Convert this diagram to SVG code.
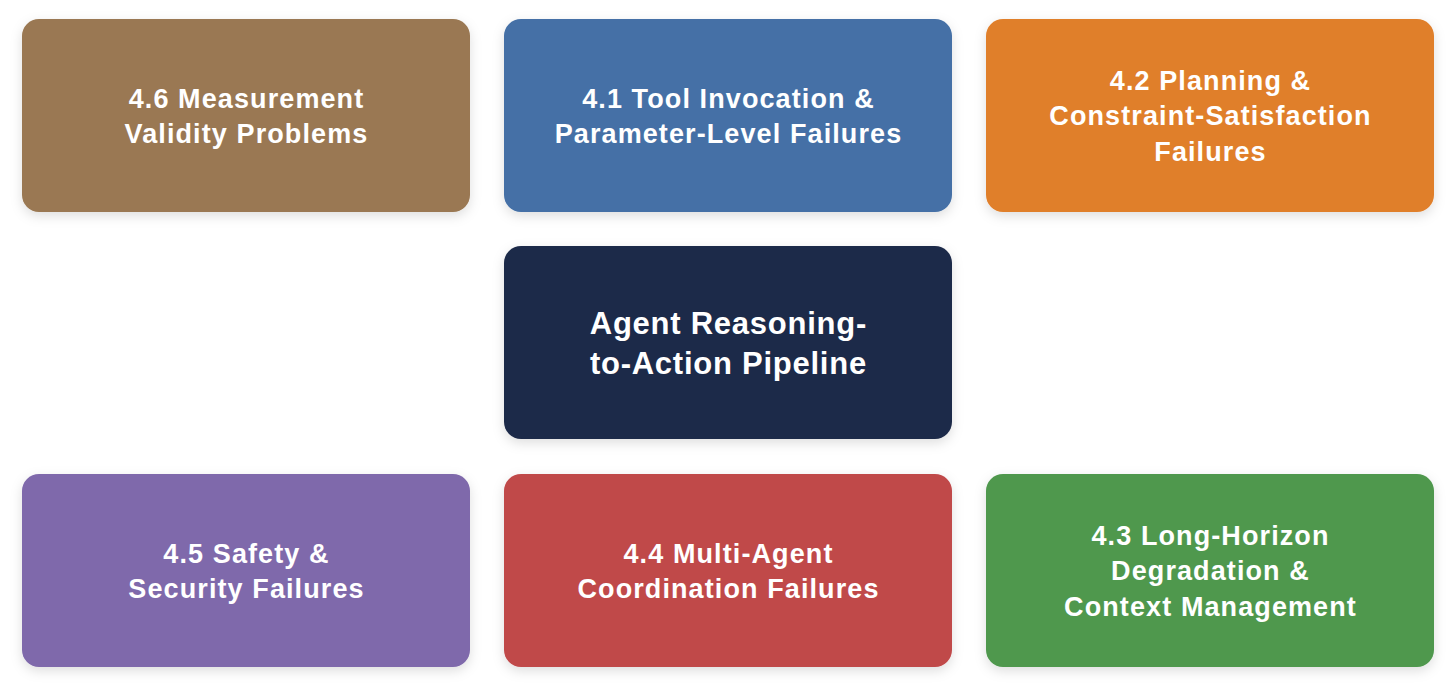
<svg xmlns="http://www.w3.org/2000/svg" width="1456" height="694" viewBox="0 0 1456 694">
<style>
.box{filter:url(#sh);}
.t{font-family:"Liberation Sans",Arial,Helvetica,sans-serif;font-weight:bold;font-size:27px;letter-spacing:1.1px;fill:#fff;text-anchor:middle;}
.tc{font-size:31px;letter-spacing:0.75px;}
</style>
<defs>
<filter id="sh" x="-10%" y="-10%" width="120%" height="130%">
<feDropShadow dx="0" dy="4" stdDeviation="6" flood-color="#000" flood-opacity="0.13"/>
</filter>
</defs>
<rect width="1456" height="694" fill="#fff"/>
<g id="connectors"></g>
<g id="n46">
<rect class="box" x="22" y="19" width="448" height="193" rx="17" fill="#9A7852"/>
<text class="t" x="246.5" y="107.5">4.6 Measurement</text>
<text class="t" x="246.5" y="143">Validity Problems</text>
</g>
<g id="n41">
<rect class="box" x="504" y="19" width="448" height="193" rx="17" fill="#4470A6"/>
<text class="t" x="728.5" y="107.5">4.1 Tool Invocation &amp;</text>
<text class="t" x="728.5" y="143">Parameter-Level Failures</text>
</g>
<g id="n42">
<rect class="box" x="986" y="19" width="448" height="193" rx="17" fill="#E07F2C"/>
<text class="t" x="1210.5" y="89.75">4.2 Planning &amp;</text>
<text class="t" x="1210.5" y="125.25">Constraint-Satisfaction</text>
<text class="t" x="1210.5" y="160.75">Failures</text>
</g>
<g id="center">
<rect class="box" x="504" y="246" width="448" height="193" rx="17" fill="#1F2B49"/>
<text class="t tc" x="728.4" y="334">Agent Reasoning-</text>
<text class="t tc" x="728.4" y="374">to-Action Pipeline</text>
</g>
<g id="n45">
<rect class="box" x="22" y="474" width="448" height="193" rx="17" fill="#7F69AB"/>
<text class="t" x="246.5" y="562.5">4.5 Safety &amp;</text>
<text class="t" x="246.5" y="598">Security Failures</text>
</g>
<g id="n44">
<rect class="box" x="504" y="474" width="448" height="193" rx="17" fill="#C0484A"/>
<text class="t" x="728.5" y="562.5">4.4 Multi-Agent</text>
<text class="t" x="728.5" y="598">Coordination Failures</text>
</g>
<g id="n43">
<rect class="box" x="986" y="474" width="448" height="193" rx="17" fill="#4F984E"/>
<text class="t" x="1210.5" y="544.75">4.3 Long-Horizon</text>
<text class="t" x="1210.5" y="580.25">Degradation &amp;</text>
<text class="t" x="1210.5" y="615.75">Context Management</text>
</g>
</svg>
